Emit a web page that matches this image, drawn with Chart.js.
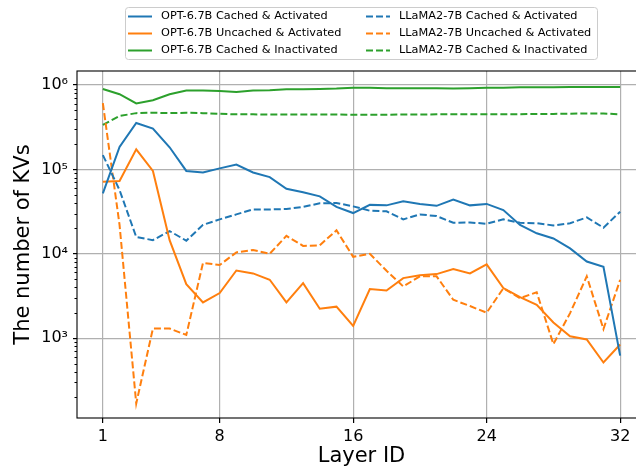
<!DOCTYPE html>
<html>
<head>
<meta charset="utf-8">
<script src="https://cdn.jsdelivr.net/npm/chart.js@4"></script>
<style>
  html, body { margin: 0; padding: 0; background: #fff; overflow: hidden; }
  #wrap { width: 660px; height: 475px; position: relative; }
</style>
</head>
<body>
<div id="wrap"><canvas id="kvChart"></canvas></div>
<script>
  const layers = [1, 2, 3, 4, 5, 6, 7, 8, 9, 10, 11, 12, 13, 14, 15, 16,
                  17, 18, 19, 20, 21, 22, 23, 24, 25, 26, 27, 28, 29, 30, 31, 32];
  const xTicks = [1, 8, 16, 24, 32];

  const optCachedAct = [52000, 185000, 355000, 305000, 183000, 96000, 92000, 103000, 114000, 92000, 81000, 59000,
    53500, 48000, 36000, 30400, 38000, 37500, 42000, 39000, 37000, 44000, 37500, 39000, 33000, 22000, 17500, 15200,
    11600, 8100, 7000, 620];
  const optUncachedAct = [71500, 73000, 173000, 96000, 14500, 4360, 2650, 3420, 6340, 5850, 4920, 2650,
    4490, 2230, 2360, 1400, 3810, 3670, 5150, 5580, 5740, 6580, 5850, 7480, 3920, 3060, 2480, 1530,
    1050, 964, 514, 841];
  const optCachedInact = [900000, 780000, 605000, 660000, 780000, 860000, 860000, 850000, 830000, 860000, 870000, 890000,
    890000, 900000, 910000, 930000, 930000, 920000, 920000, 920000, 920000, 910000, 920000, 930000, 930000, 940000,
    940000, 940000, 950000, 950000, 950000, 950000];
  const llamaCachedAct = [148000, 57000, 15800, 14500, 18600, 14300, 22000, 25600, 29300, 33600, 33500, 34000,
    36000, 39600, 40000, 36500, 32400, 31900, 25600, 29300, 28000, 23300, 23500, 22700, 25600, 23300, 23000, 21700,
    23000, 27000, 20400, 31500];
  const llamaUncachedAct = [610000, 22000, 168, 1300, 1300, 1090, 7800, 7350, 10400, 11100, 10000, 16300,
    12400, 12600, 19000, 9200, 10000, 6300, 4100, 5400, 5400, 2850, 2400, 2000, 3900, 2980, 3500, 849,
    1980, 5400, 1280, 4900];
  const llamaCachedInact = [337000, 430000, 465000, 470000, 465000, 470000, 465000, 456000, 450000, 450000, 448000, 448000,
    448000, 448000, 448000, 445000, 445000, 445000, 448000, 448000, 450000, 450000, 450000, 452000, 452000, 452000,
    455000, 455000, 458000, 460000, 460000, 450000];

  const seriesNames = [
    'OPT-6.7B Cached & Activated',
    'OPT-6.7B Uncached & Activated',
    'OPT-6.7B Cached & Inactivated',
    'LLaMA2-7B Cached & Activated',
    'LLaMA2-7B Uncached & Activated',
    'LLaMA2-7B Cached & Inactivated'
  ];
  const seriesValues = [optCachedAct, optUncachedAct, optCachedInact, llamaCachedAct, llamaUncachedAct, llamaCachedInact];
  const seriesColors = ['#1f77b4', '#ff7f0e', '#2ca02c', '#1f77b4', '#ff7f0e', '#2ca02c'];
  const dashed = [false, false, false, true, true, true];

  const FONT = "'DejaVu Sans', sans-serif";
  const sup = { 2: '²', 3: '³', 4: '⁴', 5: '⁵', 6: '⁶' };
  const yMin = Math.pow(10, 2.053);
  const yMax = Math.pow(10, 6.167);

  function isPow10(v) {
    const e = Math.round(Math.log10(v));
    return Math.abs(v - Math.pow(10, e)) < 1e-6 * v;
  }

  const datasets = seriesNames.map(function(name, i) {
    return {
      label: name,
      data: seriesValues[i].map(function(v, j) { return { x: layers[j], y: v }; }),
      borderColor: seriesColors[i],
      backgroundColor: seriesColors[i],
      borderWidth: 2,
      borderDash: dashed[i] ? [7, 3] : [],
      pointRadius: 0,
      tension: 0,
      fill: false
    };
  });

  // matplotlib-style legend box, two columns
  const legendBox = {
    id: 'legendBox',
    afterDraw: function(chart) {
      const ctx = chart.ctx;
      ctx.save();
      ctx.fillStyle = 'rgba(255,255,255,0.8)';
      ctx.strokeStyle = '#cccccc';
      ctx.lineWidth = 1;
      ctx.beginPath();
      ctx.roundRect(125.5, 7.5, 472, 52, 3);
      ctx.fill();
      ctx.stroke();
      ctx.font = '11.3px ' + FONT;
      ctx.textBaseline = 'middle';
      ctx.textAlign = 'left';
      chart.data.datasets.forEach(function(ds, i) {
        const col = i < 3 ? 0 : 1;
        const row = i % 3;
        const x0 = col === 0 ? 128 : 366;
        const y = 16.5 + row * 17;
        ctx.strokeStyle = ds.borderColor;
        ctx.lineWidth = 2;
        ctx.setLineDash(ds.borderDash);
        ctx.beginPath();
        ctx.moveTo(x0, y);
        ctx.lineTo(x0 + 24, y);
        ctx.stroke();
        ctx.setLineDash([]);
        ctx.fillStyle = '#000';
        ctx.fillText(ds.label, x0 + 33, y);
      });
      ctx.restore();
    }
  };

  // black frame around the plot area plus short minor ticks on the log axis
  const frame = {
    id: 'frame',
    afterDatasetsDraw: function(chart) {
      const a = chart.chartArea;
      const ctx = chart.ctx;
      const ys = chart.scales.y;
      ctx.save();
      ctx.strokeStyle = '#000';
      ctx.lineWidth = 1;
      ys.ticks.forEach(function(t) {
        if (isPow10(t.value)) return;
        const py = Math.round(ys.getPixelForValue(t.value)) + 0.5;
        ctx.beginPath();
        ctx.moveTo(a.left - 2.5, py);
        ctx.lineTo(a.left, py);
        ctx.stroke();
      });
      ctx.lineWidth = 1.1;
      ctx.strokeRect(a.left, a.top, a.right - a.left, a.bottom - a.top);
      ctx.restore();
    }
  };

  new Chart(document.getElementById('kvChart').getContext('2d'), {
    type: 'line',
    data: { datasets: datasets },
    plugins: [legendBox, frame],
    options: {
      responsive: true,
      maintainAspectRatio: false,
      animation: false,
      layout: { padding: { top: 71, right: 14, left: 0, bottom: 0 } },
      plugins: {
        legend: { display: false },
        tooltip: { enabled: false }
      },
      scales: {
        x: {
          type: 'linear',
          min: -0.55,
          max: 33.55,
          afterBuildTicks: function(scale) {
            scale.ticks = xTicks.map(function(v) { return { value: v }; });
          },
          afterFit: function(scale) { scale.height = 57; },
          border: { display: false },
          grid: { color: '#b0b0b0', lineWidth: 1.2, tickColor: '#000', tickLength: 5 },
          ticks: {
            autoSkip: false,
            maxRotation: 0,
            padding: 4,
            color: '#000',
            font: { family: FONT, size: 16 },
            callback: function(v) { return String(v); }
          },
          title: {
            display: true,
            text: 'Layer ID',
            color: '#000',
            font: { family: FONT, size: 21 },
            padding: { top: 0, bottom: 6 }
          }
        },
        y: {
          type: 'logarithmic',
          min: yMin,
          max: yMax,
          afterBuildTicks: function(scale) {
            const t = [];
            for (let e = 2; e <= 6; e++) {
              for (let k = 1; k <= 9; k++) {
                const v = k * Math.pow(10, e);
                if (v >= yMin && v <= yMax) t.push({ value: v, major: k === 1 });
              }
            }
            scale.ticks = t;
          },
          afterFit: function(scale) { scale.width = 77; },
          border: { display: false },
          grid: {
            color: function(c) { return c.tick && isPow10(c.tick.value) ? '#b0b0b0' : 'rgba(0,0,0,0)'; },
            tickColor: function(c) { return c.tick && isPow10(c.tick.value) ? '#000' : 'rgba(0,0,0,0)'; },
            lineWidth: 1.2,
            tickLength: 4
          },
          ticks: {
            autoSkip: false,
            padding: 5,
            color: '#000',
            font: { family: FONT, size: 16 },
            callback: function(v) {
              if (!isPow10(v)) return '';
              return '10' + sup[Math.round(Math.log10(v))];
            }
          },
          title: {
            display: true,
            text: 'The number of KVs',
            color: '#000',
            font: { family: FONT, size: 21 },
            padding: { top: 11, bottom: 0 }
          }
        }
      }
    }
  });
</script>
</body>
</html>
